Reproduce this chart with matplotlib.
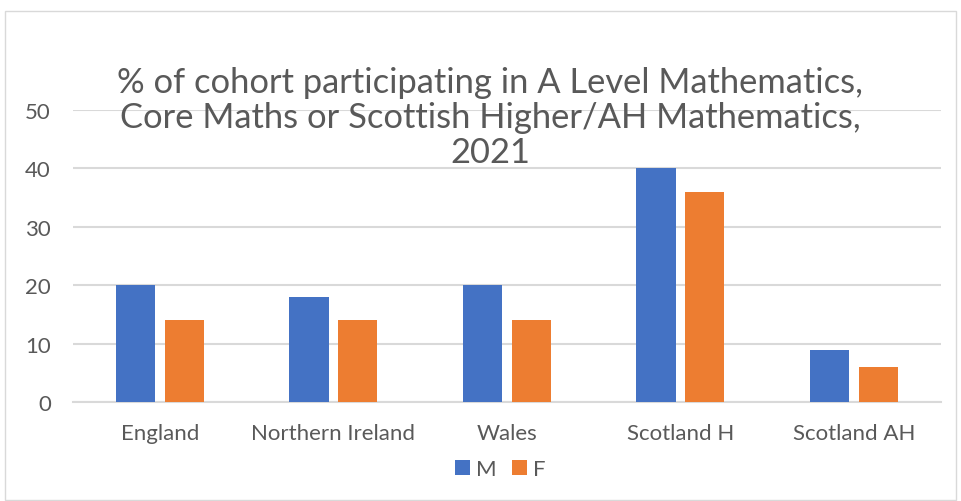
import matplotlib
matplotlib.use("Agg")
import matplotlib.pyplot as plt
import numpy as np
from matplotlib.patches import Rectangle

categories = ["England", "Northern Ireland", "Wales", "Scotland H", "Scotland AH"]
male = [20, 18, 20, 40, 9]
female = [14, 14, 14, 36, 6]
yticks = [0, 10, 20, 30, 40, 50]

plt.rcParams['font.family'] = ['Lato', 'DejaVu Sans']
grey = '#595959'
blue = '#4472C4'
orange = '#ED7D31'

fig = plt.figure(figsize=(9.61, 5.02), dpi=100)
ax = fig.add_axes([0.0762, 0.197, 0.9027, 0.582])

x = np.arange(len(categories))
w = 0.225
ax.bar(x - 0.141, male, w, color=blue, label='M', zorder=3)
ax.bar(x + 0.141, female, w, color=orange, label='F', zorder=3)

ax.set_xlim(-0.5, len(categories) - 0.5)
ax.set_ylim(0, 50)
ax.set_yticks(yticks)
ax.set_xticks(x)
ax.set_xticklabels(categories)
ax.yaxis.grid(True, color='#D9D9D9', linewidth=1.5, zorder=0)
ax.set_axisbelow(True)
for s in ['top', 'right', 'left']:
    ax.spines[s].set_visible(False)
ax.spines['bottom'].set_color('#D9D9D9')
ax.spines['bottom'].set_linewidth(1.5)
ax.tick_params(axis='both', length=0, labelsize=16, labelcolor=grey)
ax.tick_params(axis='x', pad=15)
ax.tick_params(axis='y', pad=16)

fig.text(0.51, 1 - 118 / 502, "% of cohort participating in A Level Mathematics,\n"
         "Core Maths or Scottish Higher/AH Mathematics,\n2021",
         ha='center', va='center', fontsize=24.8, color=grey, linespacing=1.1)

ax.legend(loc='center', bbox_to_anchor=(0.492, -0.23), ncol=2, frameon=False,
          fontsize=16, labelcolor=grey, handlelength=0.7, handleheight=0.7,
          handletextpad=0.25, columnspacing=0.7)

fig.patches.append(Rectangle((5 / 961, 0.002), 951 / 961, 1 - 12 / 502 - 0.002,
                             transform=fig.transFigure, fill=False,
                             edgecolor='#D9D9D9', linewidth=1))

fig.savefig("out.png", dpi=100)
